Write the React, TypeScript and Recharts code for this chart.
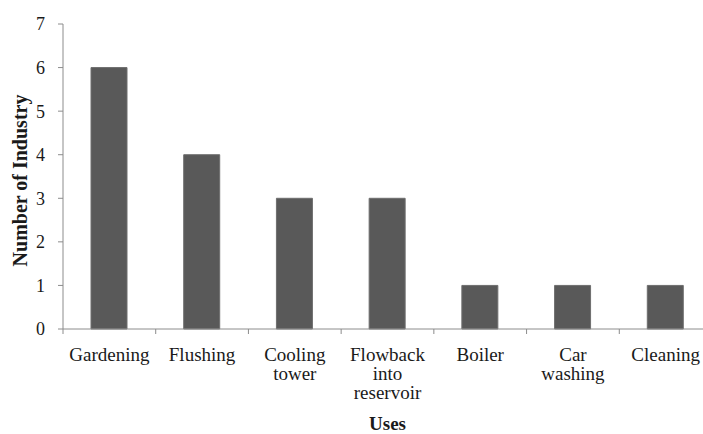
import { BarChart, Bar, XAxis, YAxis } from "recharts";

const USES = [
  "Gardening",
  "Flushing",
  "Cooling tower",
  "Flowback into reservoir",
  "Boiler",
  "Car washing",
  "Cleaning",
];
const INDUSTRIES = [6, 4, 3, 3, 1, 1, 1];
const Y_TICKS = [0, 1, 2, 3, 4, 5, 6, 7];

const FONT = '"Liberation Serif", "Times New Roman", serif';
const W = 720;
const H = 434;
const M = { top: 24, right: 8, left: 0, bottom: 0 };
const Y_W = 63;
const X_H = 105;
const BAND = (W - M.left - M.right - Y_W) / USES.length;

const data = USES.map((u, i) => ({ use: u, n: INDUSTRIES[i] }));

// etiquetas en varias líneas + marca de separación entre categorías
function UseTick(props: any) {
  const { x, y, payload } = props;
  const lines = String(payload.value).split(" ");
  const left = x - BAND / 2;
  return (
    <g>
      <line x1={left} y1={y} x2={left} y2={y + 5} stroke="#8c8c8c" />
      {payload.index === USES.length - 1 && (
        <line x1={x + BAND / 2} y1={y} x2={x + BAND / 2} y2={y + 5} stroke="#8c8c8c" />
      )}
      <text textAnchor="middle" fontFamily={FONT} fontSize={19} fill="#1a1a1a">
        {lines.map((l, i) => (
          <tspan key={i} x={x} y={y + 32 + i * 19}>{l}</tspan>
        ))}
      </text>
    </g>
  );
}

export default function App() {
  return (
    <div style={{ position: "absolute", left: 0, top: 0, width: 703, height: 434, overflow: "hidden", background: "#fff" }}>
      <BarChart width={W} height={H} data={data} margin={M} barSize={36}>
        <XAxis
          dataKey="use"
          height={X_H}
          interval={0}
          tickSize={0}
          tickMargin={0}
          tickLine={false}
          axisLine={{ stroke: "#8c8c8c" }}
          tick={<UseTick />}
          label={(p: any) => {
            const vb = p.viewBox;
            return (
              <text x={vb.x + vb.width / 2} y={430} textAnchor="middle" fontFamily={FONT} fontSize={19} fontWeight="bold" fill="#1a1a1a">
                Uses
              </text>
            );
          }}
        />
        <YAxis
          width={Y_W}
          domain={[0, 7]}
          ticks={Y_TICKS}
          interval={0}
          tickSize={5}
          tickMargin={13}
          axisLine={{ stroke: "#8c8c8c" }}
          tickLine={{ stroke: "#8c8c8c" }}
          tick={{ fontFamily: FONT, fontSize: 18, fill: "#1a1a1a" }}
          label={(p: any) => {
            const vb = p.viewBox;
            const cy = vb.y + vb.height / 2 + 4;
            return (
              <text x={20} y={cy} transform={`rotate(-90 20 ${cy})`} textAnchor="middle" dominantBaseline="central" fontFamily={FONT} fontSize={20} fontWeight="bold" fill="#1a1a1a">
                Number of Industry
              </text>
            );
          }}
        />
        <Bar dataKey="n" fill="#595959" stroke="#6e6e6e" strokeWidth={1} isAnimationActive={false} />
      </BarChart>
    </div>
  );
}
